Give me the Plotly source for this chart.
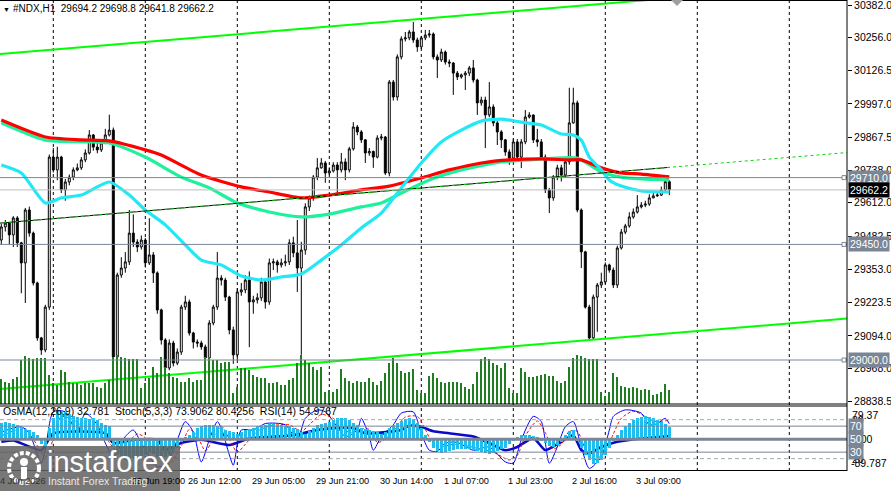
import plotly.graph_objects as go

FONT = "Liberation Sans, Arial, sans-serif"

# ---------------- data ----------------
bars = list(range(168))
first_open = 29467.2
closes = [29518, 29533, 29487, 29553, 29456, 29378, 29584, 29494, 29300, 29086,
          29039, 29206, 29790, 29740, 29790, 29662, 29693, 29712, 29740, 29748,
          29779, 29806, 29876, 29829, 29818, 29845, 29876, 29895, 29012, 29331,
          29358, 29382, 29494, 29459, 29440, 29467, 29378, 29409, 29339, 29195,
          29078, 28969, 29066, 28988, 29031, 29206, 29226, 29105, 29070, 29066,
          29051, 29008, 29144, 29206, 29319, 29311, 29245, 29117, 29020, 29265,
          29273, 29311, 29226, 29234, 29242, 29304, 29226, 29378, 29382, 29370,
          29378, 29382, 29456, 29417, 29358, 29428, 29596, 29631, 29712, 29748,
          29767, 29728, 29736, 29759, 29740, 29771, 29740, 29822, 29907, 29888,
          29857, 29806, 29812, 29790, 29864, 29868, 29728, 30082, 30024, 30180,
          30250, 30254, 30277, 30246, 30219, 30254, 30265, 30269, 30180, 30168,
          30199, 30160, 30156, 30117, 30102, 30110, 30117, 30137, 30090, 30001,
          30012, 29954, 29985, 29923, 29888, 29857, 29810, 29786, 29849, 29790,
          29849, 29946, 29954, 29857, 29849, 29790, 29662, 29631, 29712, 29748,
          29720, 29771, 29923, 30001, 29584, 29421, 29206, 29086, 29245, 29292,
          29304, 29370, 29350, 29292, 29436, 29498, 29522, 29557, 29576, 29596,
          29603, 29607, 29631, 29639, 29642, 29662, 29694.2, 29662.2]
highs = [29530, 29545, 29535, 29560, 29560, 29460, 29592, 29597, 29500, 29305,
         29090, 29215, 29800, 29825, 29830, 29795, 29705, 29722, 29750, 29765,
         29790, 29820, 29895, 29880, 29845, 29860, 29900, 29955, 29905, 29340,
         29400, 29420, 29584, 29567, 29470, 29485, 29475, 29552, 29420, 29345,
         29200, 29085, 29080, 29075, 29045, 29215, 29250, 29235, 29110, 29080,
         29075, 29060, 29155, 29215, 29420, 29330, 29320, 29250, 29130, 29280,
         29300, 29330, 29345, 29250, 29260, 29320, 29315, 29395, 29395, 29390,
         29395, 29410, 29470, 29480, 29545, 29460, 29610, 29640, 29720, 29786,
         29786, 29775, 29750, 29770, 29770, 29806, 29785, 29830, 29926, 29915,
         29895, 29860, 29825, 29815, 29875, 29880, 29872, 30090, 30090, 30190,
         30260, 30277, 30285, 30316, 30255, 30262, 30285, 30285, 30275, 30190,
         30212, 30205, 30170, 30160, 30125, 30115, 30125, 30145, 30168, 30095,
         30025, 30025, 30082, 29995, 29930, 29895, 29860, 29820, 29860, 29860,
         29860, 29973, 29965, 29955, 29900, 29860, 29800, 29670, 29720, 29760,
         29760, 29790, 30060, 30060, 30010, 29590, 29425, 29215, 29255, 29300,
         29340, 29380, 29375, 29360, 29445, 29510, 29530, 29575, 29590, 29642,
         29615, 29620, 29645, 29650, 29655, 29675, 29700, 29698.8]
lows = [29450, 29500, 29450, 29440, 29440, 29260, 29222, 29480, 29290, 29075,
        29020, 29030, 29195, 29730, 29700, 29650, 29620, 29680, 29700, 29735,
        29740, 29770, 29800, 29815, 29805, 29810, 29840, 29870, 29000, 28995,
        29320, 29340, 29370, 29440, 29420, 29430, 29360, 29370, 29300, 29180,
        29060, 28950, 28960, 28975, 28980, 29020, 29195, 29095, 29045, 29050,
        29040, 28990, 28995, 29135, 29195, 29290, 29230, 29100, 28985, 29000,
        29250, 29260, 29050, 29180, 29220, 29230, 29200, 29215, 29350, 29340,
        29360, 29365, 29370, 29400, 29265, 29020, 29410, 29580, 29620, 29700,
        29745, 29690, 29720, 29730, 29650, 29730, 29700, 29730, 29815, 29875,
        29845, 29767, 29795, 29748, 29785, 29855, 29720, 29715, 30010, 30010,
        30170, 30240, 30245, 30235, 30200, 30210, 30245, 30255, 30170, 30098,
        30160, 30150, 30140, 30032, 30090, 30095, 30051, 30105, 30080, 29954,
        29990, 29825, 29945, 29910, 29837, 29825, 29795, 29760, 29780, 29780,
        29747, 29840, 29940, 29845, 29830, 29780, 29650, 29572, 29620, 29700,
        29695, 29710, 29760, 29920, 29575, 29358, 29200, 29078, 29080, 29110,
        29280, 29295, 29340, 29280, 29280, 29430, 29490, 29515, 29550, 29570,
        29590, 29595, 29600, 29630, 29635, 29638, 29655, 29641.8]
opens = [first_open] + closes[:-1]

volumes = [2500, 2200, 2100, 2500, 2700, 4400, 4800, 4600, 4500, 4600,
           4600, 4600, 2900, 2100, 1900, 3400, 3200, 2200, 2100, 2100,
           1900, 2100, 2100, 2100, 1700, 1600, 2100, 2400, 4700, 4900,
           4700, 4600, 4500, 4500, 4500, 1600, 2100, 2600, 3700, 3100,
           4700, 3700, 3100, 2700, 2600, 2200, 2200, 2600, 2200, 2400,
           2400, 4700, 4700, 4400, 4400, 4100, 4200, 4200, 1100, 1700,
           3600, 3600, 3400, 2900, 2700, 2600, 2600, 2100, 2100, 2200,
           1900, 1900, 2400, 2600, 4100, 4900, 4400, 4100, 3700, 3400,
           3700, 1200, 1400, 1200, 1500, 3500, 2600, 2300, 2100, 2300,
           2200, 2200, 2600, 2200, 1900, 2300, 3100, 4100, 4600, 4100,
           3300, 3100, 3200, 3500, 1400, 1100, 1100, 2800, 3100, 2600,
           2200, 2100, 2200, 2200, 2200, 2100, 1700, 1500, 2000, 3200,
           4500, 4700, 4500, 4100, 3900, 3600, 4100, 1600, 1100, 1100,
           3600, 3200, 2700, 2700, 2800, 2900, 3000, 2800, 2800, 2300,
           2100, 2300, 3700, 4600, 4900, 4800, 4600, 4500, 4500, 4500,
           1200, 800, 1200, 3100, 2700, 1800, 1700, 1600, 1700, 1600,
           1400, 1500, 1400, 900, 1000, 1200, 2000, 1400]

# moving averages (sampled along the lines)
ma_red_bars = [0, 11, 20, 27, 36, 40, 50, 60, 67, 75, 82, 90, 97, 105, 112, 120,
               127, 135, 142, 145, 150, 155, 160, 167]
ma_red_vals = [29934, 29868, 29857, 29853, 29818, 29798, 29720, 29674, 29654, 29631,
               29642, 29662, 29677, 29709, 29740, 29767, 29779, 29783, 29779, 29779,
               29748, 29728, 29724, 29713]
ma_sea_bars = [0, 11, 27, 36, 45, 52, 59, 67, 75, 82, 90, 95, 100, 107, 115, 125,
               132, 144, 150, 155, 160, 167]
ma_sea_vals = [29923, 29856, 29845, 29790, 29712, 29670, 29611, 29576, 29557, 29568,
               29596, 29611, 29650, 29701, 29740, 29771, 29779, 29786, 29732, 29712,
               29705, 29701]
ma_cyan_bars = [0, 5, 11, 15, 20, 27, 32, 36, 41, 46, 50, 55, 60, 65, 70, 75, 80, 85,
                90, 95, 100, 105, 110, 115, 120, 125, 130, 135, 140, 143, 145, 147,
                150, 152, 155, 160, 167]
ma_cyan_vals = [29759, 29728, 29611, 29631, 29642, 29693, 29642, 29584, 29526, 29448,
                29389, 29370, 29327, 29311, 29323, 29335, 29389, 29448, 29514, 29572,
                29670, 29767, 29849, 29895, 29930, 29938, 29926, 29915, 29880, 29876,
                29856, 29790, 29740, 29701, 29677, 29658, 29654]

# trend lines (end points)
chan_up_bars, chan_up_vals = [-1, 212], [30190.4, 30466.7]
chan_lo_bars, chan_lo_vals = [-1, 212], [28885.8, 29162.1]
mid_bars, mid_vals = [-1, 167], [29532.1, 29750.0]
mid_ext_bars, mid_ext_vals = [-1, 212], [29532.1, 29808.4]

levels_grey = [29710.0, 29450.0, 29000.0]
level_last = 29662.2

price_ticks = [30382.0, 30256.0, 30126.5, 29997.0, 29867.5, 29738.0, 29612.0,
               29482.5, 29353.0, 29223.5, 29094.0, 28968.0, 28838.5]

time_label_bars = [33, 47, 63, 79, 95, 111, 127, 143, 159]
time_label_text = ["25 Jun 19:00", "26 Jun 12:00", "29 Jun 05:00", "29 Jun 21:00",
                   "30 Jun 14:00", "1 Jul 07:00", "1 Jul 23:00", "2 Jul 16:00",
                   "3 Jul 09:00"]
grid_bars = [13, 36, 59, 82, 105, 128, 151, 174, 197]

# indicator window
osma = [45, 47, 46, 42, 38, 33, 28, 25, 20, 12,
        -15, -23, 30, 60, 78, 80, 76, 70, 66, 62,
        60, 58, 55, 58, 52, 45, 40, 35, -20, -45,
        -55, -60, -58, -55, -52, -48, -45, -40, -42, -50,
        -55, -52, -45, -35, -25, -10, 5, 10, 20, 30,
        35, 38, 40, 38, 35, 30, 25, 22, 18, 15,
        20, 25, 28, 32, 36, 38, 40, 42, 42, 40,
        38, 36, 35, 32, 28, 20, 15, 22, 30, 38,
        42, 45, 48, 52, 58, 60, 58, 52, 45, 38,
        32, 28, 25, 22, 18, 15, 20, 30, 38, 45,
        50, 55, 58, 55, 45, 30, 10, -10, -25, -35,
        -40, -38, -35, -32, -30, -30, -28, -30, -32, -35,
        -38, -40, -42, -40, -35, -30, -25, -15, -5, 5,
        10, 12, 10, 8, 5, -5, -12, -20, -22, -18,
        -10, 10, 22, 25, -5, -25, -45, -60, -70, -68,
        -60, -45, -25, -5, 12, 25, 35, 45, 52, 58,
        62, 65, 62, 58, 52, 48, 42, 32.781]

stoch_bars = [0, 5, 7, 10, 11, 13, 16, 19, 21, 24, 26, 28, 31, 33, 35, 39, 41, 44, 46,
              48, 50, 52, 54, 55, 57, 58, 60, 63, 66, 71, 74, 76, 79, 81, 84, 86, 89,
              90, 92, 93, 95, 98, 100, 103, 105, 107, 109, 111, 114, 118, 122, 126,
              128, 130, 133, 135, 137, 139, 141, 143, 145, 147, 150, 152, 153, 156,
              160, 162, 164, 166, 167]
stoch_vals = [61, 69, 59, 13, 33, 92, 92, 59, 90, 72, 44, 23, 54, 64, 44, 8, 10, 49, 77,
              61, 15, 49, 77, 67, 26, 10, 64, 64, 74, 72, 49, 82, 95, 92, 69, 54, 64,
              82, 54, 33, 54, 72, 90, 92, 59, 33, 31, 44, 45, 33, 38, 15,
              13, 49, 85, 77, 13, 38, 69, 77, 38, 5, 23, 64, 85, 95,
              90, 72, 74, 82, 73.9062]
signal_bars = [0, 6, 9, 11, 13, 15, 18, 20, 22, 25, 27, 29, 31, 34, 36, 39, 42, 45, 47,
               49, 51, 53, 55, 57, 59, 61, 64, 67, 72, 75, 77, 80, 83, 85, 87, 90, 92,
               94, 96, 99, 101, 104, 106, 108, 110, 113, 116, 119, 123, 127, 129, 131,
               134, 136, 138, 140, 142, 144, 146, 148, 151, 153, 155, 158, 161, 163,
               166, 167]
signal_vals = [55, 66, 40, 22, 50, 85, 80, 72, 80, 65, 45, 30, 40, 58, 52, 25, 12, 40, 65,
               55, 32, 50, 70, 50, 30, 42, 62, 70, 72, 62, 72, 88, 82, 70, 60, 66, 65,
               45, 50, 70, 84, 85, 65, 42, 38, 42, 40, 36, 30, 18, 25, 55,
               78, 60, 35, 42, 62, 62, 35, 18, 30, 58, 82, 93, 85, 78,
               78, 80.4256]
rsi_bars = [0, 3, 10, 13, 26, 28, 33, 39, 41, 45, 50, 57, 62, 73, 79, 83, 88, 91, 100,
            102, 105, 108, 112, 118, 122, 126, 129, 133, 136, 140, 143, 145, 147, 150,
            154, 160, 167]
rsi_vals = [46, 48, 33, 59, 59, 44, 49, 49, 33, 44, 49, 41, 51, 56, 64, 67, 67, 59, 64,
            71, 69, 62, 59, 54, 44, 33, 38, 52, 33, 46, 56, 33, 28, 38,
            46, 51, 54.9767]
ind_levels_solid = [70, 50, 30]
ind_levels_dash = [80, 20]

# ---------------- figure ----------------
W, H = 891, 491
ML, MR, MT, MB = 0, 44, 0, 20
PH = H - MT - MB            # 471
PW = W - ML - MR            # 847
main_bottom_px = 404
ind_top_px = 406
main_dom = [(PH - main_bottom_px) / PH, 1]
ind_dom = [0, (PH - ind_top_px) / PH]
XR = [-0.325, 211.425]

GREY = "#7A8596"
fig = go.Figure()

fig.add_trace(go.Bar(x=bars, y=volumes, yaxis="y3", width=0.25,
                     marker=dict(color="#217D21", line_width=0), hoverinfo="skip"))
fig.add_trace(go.Candlestick(
    x=bars, open=opens, high=highs, low=lows, close=closes,
    increasing=dict(line=dict(color="black", width=1), fillcolor="white"),
    decreasing=dict(line=dict(color="black", width=1), fillcolor="black"),
    whiskerwidth=0, hoverinfo="skip"))

fig.add_trace(go.Scatter(x=ma_sea_bars, y=ma_sea_vals, mode="lines",
                         line=dict(color="#1EF09C", width=3.2, shape="spline", smoothing=0.6)))
fig.add_trace(go.Scatter(x=ma_red_bars, y=ma_red_vals, mode="lines",
                         line=dict(color="#FF0000", width=3.2, shape="spline", smoothing=0.6)))
fig.add_trace(go.Scatter(x=ma_cyan_bars, y=ma_cyan_vals, mode="lines",
                         line=dict(color="#22E8F5", width=3.2, shape="spline", smoothing=0.6)))

fig.add_trace(go.Scatter(x=chan_up_bars, y=chan_up_vals, mode="lines",
                         line=dict(color="#00FF00", width=2)))
fig.add_trace(go.Scatter(x=chan_lo_bars, y=chan_lo_vals, mode="lines",
                         line=dict(color="#00FF00", width=2)))
fig.add_trace(go.Scatter(x=mid_bars, y=mid_vals, mode="lines",
                         line=dict(color="black", width=1)))
fig.add_trace(go.Scatter(x=mid_ext_bars, y=mid_ext_vals, mode="lines",
                         line=dict(color="#00E000", width=1, dash="3px,3px")))

# indicator window
fig.add_trace(go.Bar(x=bars, y=osma, yaxis="y4", width=0.6,
                     marker=dict(color="#1EBEF0", line_width=0), hoverinfo="skip"))
fig.add_trace(go.Scatter(x=rsi_bars, y=rsi_vals, yaxis="y2", mode="lines",
                         line=dict(color="#0A0AC8", width=2.6, shape="spline", smoothing=0.5)))
fig.add_trace(go.Scatter(x=signal_bars, y=signal_vals, yaxis="y2", mode="lines",
                         line=dict(color="#FF0000", width=1, dash="3px,2px", shape="spline",
                                   smoothing=0.7)))
fig.add_trace(go.Scatter(x=stoch_bars, y=stoch_vals, yaxis="y2", mode="lines",
                         line=dict(color="#0000FF", width=1, shape="spline", smoothing=0.7)))

shapes = []
# vertical dashed grid
for gb in grid_bars:
    shapes.append(dict(type="line", xref="x", yref="paper", x0=gb, x1=gb, y0=0, y1=1,
                       line=dict(color="black", width=1, dash="3px,3px"), layer="below"))
# horizontal price lines
for lv in levels_grey:
    shapes.append(dict(type="line", xref="paper", yref="y", x0=0, x1=1, y0=lv, y1=lv,
                       line=dict(color=GREY, width=1), layer="above"))
    shapes.append(dict(type="rect", xref="paper", yref="y", xsizemode="pixel",
                       ysizemode="pixel", xanchor=1, yanchor=lv, x0=-5, x1=-1, y0=-2, y1=2,
                       line=dict(color=GREY, width=1), fillcolor="white", layer="above"))
shapes.append(dict(type="line", xref="paper", yref="y", x0=0, x1=1, y0=level_last,
                   y1=level_last, line=dict(color="#BDBDBD", width=1), layer="above"))
# indicator levels
for lv in ind_levels_dash:
    shapes.append(dict(type="line", xref="paper", yref="y2", x0=0, x1=1, y0=lv, y1=lv,
                       line=dict(color="#A8A8A8", width=1, dash="4px,3px"), layer="above"))
for lv in ind_levels_solid:
    shapes.append(dict(type="line", xref="paper", yref="y2", x0=0, x1=1, y0=lv, y1=lv,
                       line=dict(color=GREY, width=3 if lv == 50 else 1), layer="above"))
# frames
def hline(py):
    y = (PH - py) / PH
    return dict(type="line", xref="paper", yref="paper", x0=0, x1=1, y0=y, y1=y,
                line=dict(color="black", width=1), layer="above")
for py in [0.5, main_bottom_px, ind_top_px, PH - 0.5]:
    shapes.append(hline(py))
shapes.append(dict(type="line", xref="paper", yref="paper", x0=1, x1=1, y0=0, y1=1,
                   line=dict(color="black", width=1), layer="above"))
# chart-shift marker
shapes.append(dict(type="path", xref="paper", yref="paper",
                   path="M %f,1 L %f,1 L %f,%f Z" % (671 / PW, 683 / PW, 677 / PW, 1 - 6 / PH),
                   fillcolor="#A0A0A0", line=dict(width=0), layer="above"))
# logo box
shapes.append(dict(type="rect", xref="paper", yref="paper", x0=0, x1=180 / PW,
                   y0=(PH - H) / PH, y1=(PH - 446) / PH,
                   fillcolor="rgba(98,98,98,0.86)", line=dict(width=0), layer="above"))
cx, cy, r = 24 / PW, (PH - 468) / PH, 15
shapes.append(dict(type="circle", xref="paper", yref="paper",
                   x0=cx - r / PW, x1=cx + r / PW, y0=cy - r / PH, y1=cy + r / PH,
                   line=dict(color="white", width=4, dash="4px,2px"), layer="above"))
shapes.append(dict(type="circle", xref="paper", yref="paper",
                   x0=cx - 4 / PW, x1=cx + 4 / PW, y0=cy + 2 / PH, y1=cy + 10 / PH,
                   fillcolor="white", line=dict(width=0), layer="above"))
shapes.append(dict(type="rect", xref="paper", yref="paper",
                   x0=cx - 3 / PW, x1=cx + 3 / PW, y0=cy - 11 / PH, y1=cy + 1 / PH,
                   fillcolor="white", line=dict(width=0), layer="above"))

ann = []
def txt(text, x, y, xref="paper", yref="paper", xanchor="left", yanchor="middle",
        size=10.5, color="black", bg=None, xshift=0, yshift=0, pad=0):
    d = dict(text=text, x=x, y=y, xref=xref, yref=yref, xanchor=xanchor, yanchor=yanchor,
             showarrow=False, font=dict(family=FONT, size=size, color=color),
             xshift=xshift, yshift=yshift, borderpad=pad)
    if bg:
        d["bgcolor"] = bg
    ann.append(d)

# header
txt("▼", 2 / PW, 1, yanchor="top", size=7, yshift=-5)
txt("#NDX,H1  29694.2 29698.8 29641.8 29662.2", 12 / PW, 1, yanchor="top", size=10,
    yshift=-2)
# time labels
txt("24 Jun 2026", 0, 0, yanchor="middle", yshift=-10, size=9.2, color="#333333",
    xshift=-6)
for b, t in zip(time_label_bars, time_label_text):
    txt(t, b, 0, xref="x", yanchor="middle", yshift=-10, size=9.2, xshift=-2)
# price line labels
for lv in levels_grey:
    txt("%.1f" % lv, 1, lv, yref="y", xshift=1, color="white", bg=GREY, pad=1)
txt("%.1f" % level_last, 1, level_last, yref="y", xshift=1, color="white", bg="black", pad=1)
# indicator window labels
txt("OsMA(12,26,9) 32.781  Stoch(5,3,3) 73.9062 80.4256  RSI(14) 54.9767", 2 / PW, 94,
    yref="y2", size=10.5)
txt("80", 1, 80, yref="y2", xshift=4)
txt("20", 1, 20, yref="y2", xshift=4)
txt("79.37", 1, ind_dom[1], yanchor="top", xshift=4, yshift=-2)
txt("-89.787", 1, 0, yanchor="bottom", xshift=3, yshift=1)
txt("0.00", 1, 50, yref="y2", xshift=4)
for lv in ind_levels_solid:
    txt("%d" % lv, 1, lv, yref="y2", xshift=1, color="white", bg=GREY, pad=1)
# logo text
txt("instaforex", 46 / PW, (PH - 462) / PH, size=29, color="white")
txt("Instant Forex Trading", 47 / PW, (PH - 481) / PH, size=10.5, color="#E8E8E8")

fig.update_layout(
    width=W, height=H, margin=dict(l=ML, r=MR, t=MT, b=MB),
    paper_bgcolor="white", plot_bgcolor="white", showlegend=False,
    hovermode=False, bargap=0,
    font=dict(family=FONT, size=10.5, color="black"),
    xaxis=dict(range=XR, showgrid=False, zeroline=False, showticklabels=False,
               showline=False, ticks="", rangeslider=dict(visible=False), fixedrange=True),
    yaxis=dict(domain=main_dom, range=[28828.7, 30401.5], side="right", showgrid=False,
               zeroline=False, tickmode="array", tickvals=price_ticks,
               ticktext=["%.1f" % v for v in price_ticks], ticks="outside", ticklen=4,
               tickcolor="black", tickfont=dict(family=FONT, size=10.5, color="black"),
               ticklabeloverflow="allow", showline=False, fixedrange=True),
    yaxis2=dict(domain=ind_dom, range=[1, 101], side="right", showgrid=False,
                zeroline=False, showticklabels=False, ticks="", fixedrange=True),
    yaxis3=dict(overlaying="y", range=[0, 40400], visible=False, fixedrange=True),
    yaxis4=dict(overlaying="y2", range=[-91, 93], visible=False, fixedrange=True),
    shapes=shapes, annotations=ann,
)
fig.write_html("out.html")
